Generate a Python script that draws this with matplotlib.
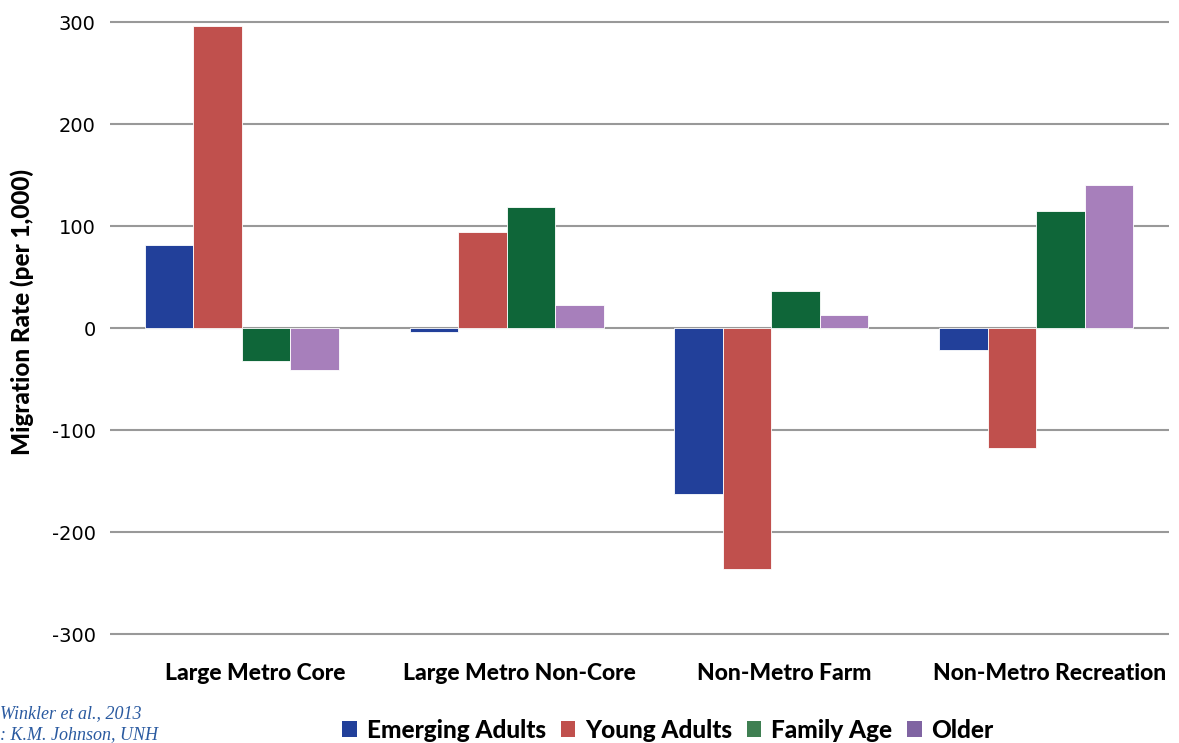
import numpy as np
import matplotlib.pyplot as plt
import matplotlib.transforms as mtransforms
from matplotlib.patches import Patch

categories = ['Large Metro Core', 'Large Metro Non-Core', 'Non-Metro Farm', 'Non-Metro Recreation']
series = ['Emerging Adults', 'Young Adults', 'Family Age', 'Older']
emerging = [81, -4, -163, -22]
young = [296, 94, -236, -118]
family = [-32, 119, 36, 115]
older = [-41, 23, 13, 140]
values = [emerging, young, family, older]
colors = ['#22409a', '#c0504d', '#0f6639', '#a77fbb']
legend_colors = ['#22409a', '#c0504d', '#3f7f52', '#8064a2']

fig = plt.figure(figsize=(11.79, 7.43), dpi=100)
ax = fig.add_axes([0.0929, 0.1398, 0.8982, 0.8374])

x = np.arange(len(categories))
w = 0.183
for i, vals in enumerate(values):
    ax.bar(x + (i - 1.5) * w, vals, w, color=colors[i], edgecolor='white',
           linewidth=0.6, zorder=3)

ax.set_xlim(-0.5, 3.5)
ax.set_ylim(-305, 305)
ax.set_yticks([-300, -200, -100, 0, 100, 200, 300])
ax.set_yticklabels(['-300', '-200', '-100', '0', '100', '200', '300'],
                   fontsize=14, family='DejaVu Sans')
ax.yaxis.grid(True, color='#999999', linewidth=1.5, zorder=0)
ax.tick_params(axis='y', length=0, pad=10)
ax.set_xticks(x)
ax.set_xticklabels(categories, fontsize=16.5, fontweight='black', family='Lato')
ax.tick_params(axis='x', length=0, pad=17)
offset = mtransforms.ScaledTranslation(13 / 100, 0, fig.dpi_scale_trans)
for lab in ax.get_xticklabels():
    lab.set_transform(lab.get_transform() + offset)
for s in ax.spines.values():
    s.set_visible(False)

fig.text(22 / 1179, 1 - 312 / 743, 'Migration Rate (per 1,000)', rotation=90,
         ha='center', va='center', fontsize=17.5, fontweight='black', family='Lato')

handles = [Patch(facecolor=c, edgecolor='none') for c in legend_colors]
fig.legend(handles, series, loc='center', bbox_to_anchor=(668 / 1179, 1 - 730 / 743),
           ncol=4, frameon=False, handlelength=0.6, handleheight=0.6,
           handletextpad=0.4, columnspacing=0.6,
           prop={'family': 'Lato', 'weight': 'black', 'size': 17.6})

fig.text(0.0, 1 - 714 / 743, 'Winkler et al., 2013', ha='left', va='center',
         fontsize=13, style='italic', family='Liberation Serif', color='#2a5aa0')
fig.text(0.0, 1 - 735 / 743, ': K.M. Johnson, UNH', ha='left', va='center',
         fontsize=13, style='italic', family='Liberation Serif', color='#2a5aa0')

fig.savefig('out.png', dpi=100)
